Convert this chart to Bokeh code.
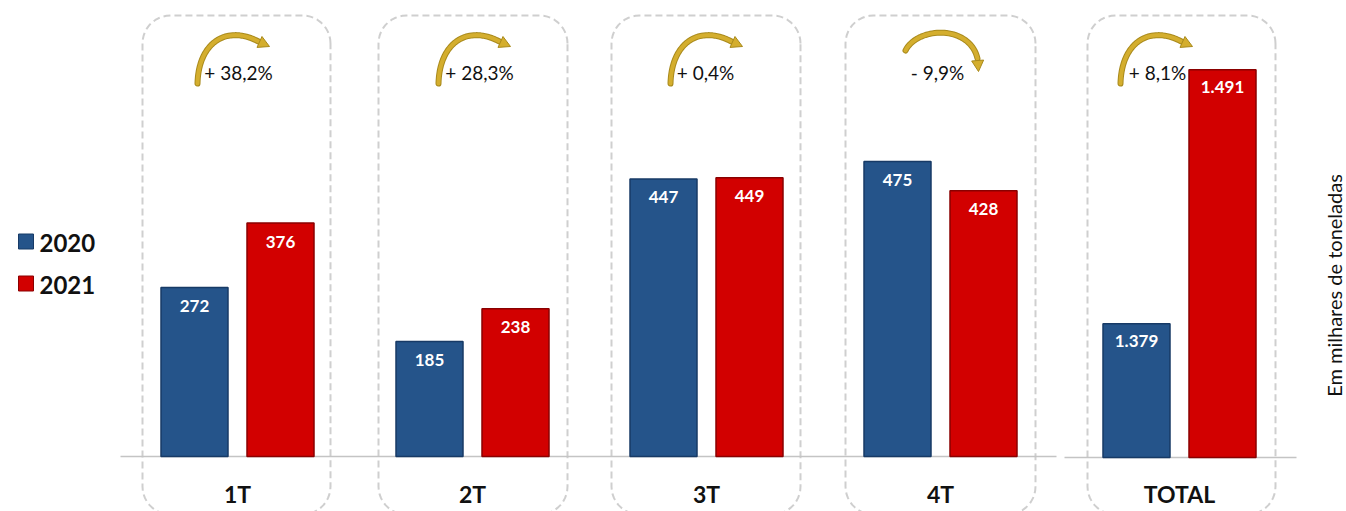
import numpy as np
from bokeh.plotting import figure
from bokeh.models import Range1d, ColumnDataSource
from bokeh.core.properties import value
from bokeh.embed import file_html
from bokeh.resources import INLINE

# ---------------- data ----------------
categories = ["1T", "2T", "3T", "4T"]
values_2020 = [272, 185, 447, 475]
values_2021 = [376, 238, 449, 428]
total_label = "TOTAL"
total_2020 = 1379
total_2021 = 1491
changes = ["+ 38,2%", "+ 28,3%", "+ 0,4%", "- 9,9%", "+ 8,1%"]
series = ["2020", "2021"]
unit_label = "Em milhares de toneladas"

# ---------------- layout constants ----------------
W, H = 1346, 511
OX, OY = 0, 0
BASE_IMG = 456          # image y of zero line (quarters)
K = 0.621               # px per unit (quarters)
BASE_IMG2 = 457         # image y of total axis start
TOTAL_AXIS_START = 1320.0
K2 = 2.268              # px per unit (total panel, truncated axis)

BLUE, BLUE_EDGE = "#25548a", "#173a66"
RED, RED_EDGE = "#d20000", "#8a0000"
GOLD = "#d4ae2e"
GRID = "#c4c4c4"
FONT = value("Lato")


def X(px):
    return px - OX


def Y(py):
    return (BASE_IMG - py) / K


y_main = Range1d((BASE_IMG - (OY + H)) / K, (BASE_IMG - OY) / K)
y_tot = Range1d(TOTAL_AXIS_START - ((OY + H) - BASE_IMG2) / K2,
                TOTAL_AXIS_START + (BASE_IMG2 - OY) / K2)

p = figure(width=W, height=H, x_range=Range1d(0, W), y_range=y_main,
           output_backend="svg", toolbar_location=None, min_border=0,
           x_axis_type=None, y_axis_type=None, outline_line_color=None,
           background_fill_color="white", border_fill_color="white")
p.extra_y_ranges = {"tot": y_tot}
p.grid.visible = False

group_px = [237, 472, 706, 940]
total_px = 1179
BAR_OFF, BAR_W = 43, 67

# ---------------- dashed rounded boxes ----------------
boxes = [(142, 330), (378, 567), (611, 800), (845, 1035), (1087, 1275)]


def rounded_path(l, r, t, b, rad):
    pts = []
    for cx, cy, a0 in [(r - rad, t + rad, 0), (l + rad, t + rad, 90),
                       (l + rad, b - rad, 180), (r - rad, b - rad, 270)]:
        for a in np.linspace(a0, a0 + 90, 12):
            ar = np.radians(a)
            pts.append((cx + rad * np.cos(ar), cy - rad * np.sin(ar)))
    pts.append(pts[0])
    return [X(q[0]) for q in pts], [Y(q[1]) for q in pts]


bx, by = [], []
for l, r in boxes:
    xs, ys = rounded_path(l, r, 15, 514, 28)
    bx.append(xs)
    by.append(ys)
p.multi_line(bx, by, line_color="#cfcfcf", line_width=2, line_dash="7 4")

# ---------------- baselines ----------------
p.line([X(120), X(1056)], [0, 0], line_color=GRID, line_width=1.5)
p.line([X(1064), X(1296)], [TOTAL_AXIS_START, TOTAL_AXIS_START],
       line_color=GRID, line_width=1.5, y_range_name="tot")

# ---------------- quarter bars ----------------
gx = np.array([X(g) for g in group_px], dtype=float)
src = ColumnDataSource(dict(
    x20=gx - BAR_OFF, x21=gx + BAR_OFF,
    v20=values_2020, v21=values_2021,
    l20=[str(v) for v in values_2020], l21=[str(v) for v in values_2021],
    y20=[v - 18.5 / K for v in values_2020], y21=[v - 18.5 / K for v in values_2021],
))
p.vbar(x="x20", top="v20", bottom=0, width=BAR_W, source=src,
       fill_color=BLUE, line_color=BLUE_EDGE, line_width=1.5)
p.vbar(x="x21", top="v21", bottom=0, width=BAR_W, source=src,
       fill_color=RED, line_color=RED_EDGE, line_width=1.5)
p.text(x="x20", y="y20", text="l20", source=src, text_font=FONT,
       text_font_size="17px", text_font_style="bold", text_color="white",
       text_align="center", text_baseline="middle")
p.text(x="x21", y="y21", text="l21", source=src, text_font=FONT,
       text_font_size="17px", text_font_style="bold", text_color="white",
       text_align="center", text_baseline="middle")

# ---------------- total bars (truncated axis) ----------------
tx = X(total_px)
tvals = [total_2020, total_2021]
tsrc = ColumnDataSource(dict(
    x=[tx - BAR_OFF, tx + BAR_OFF], top=tvals,
    color=[BLUE, RED], edge=[BLUE_EDGE, RED_EDGE],
    lab=[f"{v:,}".replace(",", ".") for v in tvals],
    ly=[v - 17.5 / K2 for v in tvals],
))
p.vbar(x="x", top="top", bottom=TOTAL_AXIS_START, width=BAR_W, source=tsrc,
       fill_color="color", line_color="edge", line_width=1.5, y_range_name="tot")
p.text(x="x", y="ly", text="lab", source=tsrc, y_range_name="tot", text_font=FONT,
       text_font_size="17px", text_font_style="bold", text_color="white",
       text_align="center", text_baseline="middle")

# ---------------- category labels ----------------
p.text(x=list(gx) + [tx], y=[Y(493)] * 5, text=categories + [total_label],
       text_font=FONT, text_font_size="23px", text_font_style="bold",
       text_color="#111111", text_align="center", text_baseline="middle")

# ---------------- change arrows + labels ----------------
arrow_px = [232, 473, 705, 945, 1155]
text_px = [238, 479, 705, 937, 1157]
all20 = values_2020 + [total_2020]
all21 = values_2021 + [total_2021]


def bez(p0, p1, p2, p3, n=40):
    t = np.linspace(0, 1, n)[:, None]
    P = ((1 - t) ** 3) * np.array(p0) + 3 * ((1 - t) ** 2) * t * np.array(p1) \
        + 3 * (1 - t) * t * t * np.array(p2) + (t ** 3) * np.array(p3)
    return P


ax_l, ay_l, hx, hy = [], [], [], []
for a, v0, v1 in zip(arrow_px, all20, all21):
    if v1 >= v0:
        ctrl = [(a - 35, 83), (a - 34, 42), (a - 6, 24), (a + 26, 41)]
        tip = np.array([a + 37, 46.0])
    else:
        ctrl = [(a - 40, 50), (a - 28, 26), (a + 24, 24), (a + 32, 58)]
        tip = np.array([a + 33, 71.0])
    P = bez(*ctrl)
    ax_l.append([X(q[0]) for q in P])
    ay_l.append([Y(q[1]) for q in P])
    end = np.array(ctrl[3], dtype=float)
    d = tip - end
    d = d / np.hypot(*d)
    nrm = np.array([-d[1], d[0]])
    base = tip - d * 11
    tri = [tip, base + nrm * 6, base - nrm * 6]
    hx.append([X(q[0]) for q in tri])
    hy.append([Y(q[1]) for q in tri])

p.multi_line(ax_l, ay_l, line_color="#a98a1c", line_width=6, line_cap="round")
p.multi_line(ax_l, ay_l, line_color=GOLD, line_width=4, line_cap="round")
p.patches(hx, hy, fill_color=GOLD, line_color="#a98a1c", line_width=1)

p.text(x=[X(t) for t in text_px], y=[Y(72)] * 5, text=changes, text_font=FONT,
       text_font_size="19px", text_color="#111111", text_align="center",
       text_baseline="middle")

# ---------------- legend ----------------
p.scatter(x=[X(25.5)] * 2, y=[Y(241), Y(283)], marker="square", size=15,
          fill_color=[BLUE, RED], line_color=[BLUE_EDGE, RED_EDGE], line_width=1)
p.text(x=[X(39)] * 2, y=[Y(242), Y(284)], text=series, text_font=FONT,
       text_font_size="24px", text_font_style="bold", text_color="#111111",
       text_align="left", text_baseline="middle")

# ---------------- unit label ----------------
p.text(x=[X(1333)], y=[Y(285)], text=[unit_label], angle=np.pi / 2,
       text_font=FONT, text_font_size="20px", text_color="#111111",
       text_align="center", text_baseline="middle")

open("out.html", "w").write(file_html(p, INLINE))
